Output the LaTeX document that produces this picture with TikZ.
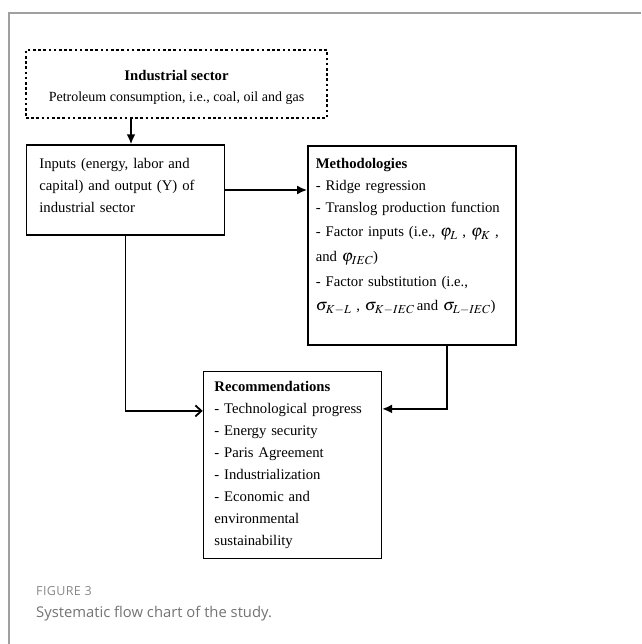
\documentclass[tikz,border=0pt]{standalone}
\usepackage{mathptmx}
\usepackage{fontspec}
\setmainfont{Liberation Serif}
\newfontfamily\capfont{Open Sans}
\newfontfamily\capfontwide[LetterSpace=3]{Open Sans}
\usetikzlibrary{arrows.meta,calc,positioning}

\definecolor{framegray}{RGB}{160,160,160}
\definecolor{capgray}{RGB}{115,115,115}
\newcommand{\mathbig}[1]{{\fontsize{16.5}{22}\selectfont$#1$}}

\begin{document}
\begin{tikzpicture}[x=1pt, y=-1pt, block/.style={rectangle, draw, line width=1.4pt, inner xsep=11pt, inner ysep=4pt, align=left, font=\fontsize{14.7}{22}\selectfont}, dotbox/.style={rectangle, draw, line width=2.6pt, dash pattern=on 2.6pt off 2.6pt, align=center, font=\fontsize{14}{21}\selectfont}, flow/.style={line width=1.8pt, -{Latex[length=10pt,width=9pt]}}]
    \useasboundingbox (0,0) rectangle (641,644);
    \draw[framegray, line width=1.5pt] (641,13) -| (9,644);

    \node[dotbox, minimum width=301pt, minimum height=68pt] (sector) at (176.5,84) {\\[-4pt]{\fontsize{14.7}{21}\selectfont\textbf{Industrial sector}}\\Petroleum consumption, i.e., coal, oil and gas};
    \node[block, below=25pt of sector.south west, anchor=north west, xshift=1pt, minimum width=198pt, minimum height=90pt, text width=172pt, inner xsep=13pt] (inputs) {Inputs (energy, labor and\\capital) and output (Y) of\\industrial sector\\[-13pt]\mbox{}};
    \node[block, right=82pt of inputs.north east, anchor=north west, yshift=-1pt, minimum width=208pt, minimum height=199pt, text width=192pt, inner xsep=8pt] (methods) {\textbf{Methodologies}\\- Ridge regression\\- Translog production function\\[2pt]- Factor inputs (i.e., \mathbig{\varphi_L} , \mathbig{\varphi_K} ,\\[3pt]and \mathbig{\varphi_{IEC}})\\[3pt]- Factor substitution (i.e.,\\[2pt]\mathbig{\sigma_{K-L}} , \mathbig{\sigma_{K-IEC}}\,and \mathbig{\sigma_{L-IEC}})\\\mbox{}};
    \node[block, below=25pt of methods.south west, anchor=north east, xshift=75pt, minimum width=178pt, minimum height=187pt, text width=156pt] (recs) {\textbf{Recommendations}\\- Technological progress\\- Energy security\\- Paris Agreement\\- Industrialization\\- Economic and\\environmental\\sustainability};

    \draw[flow, line width=2.8pt] ([xshift=-45.5pt]sector.south) -- ([xshift=-45.5pt]sector.south |- inputs.north);
    \draw[flow] (inputs.east) -- (inputs.east -| methods.west);
    \draw[flow, -{Straight Barb[length=6pt,width=11pt]}] (inputs.south) |- ([yshift=54pt]recs.west);
    \draw[flow] ([xshift=35pt]methods.south) |- ([yshift=56pt]recs.east);

    \node[anchor=west, text=capgray!85, font=\capfontwide\fontsize{12.5}{15}\selectfont, inner sep=0pt] (fignum) at (36,591) {FIGURE 3};
    \node[anchor=west, text=capgray, font=\capfont\fontsize{14.8}{17}\selectfont, inner sep=0pt] (figtext) at (36,614) {Systematic flow chart of the study.};
\end{tikzpicture}
\end{document}
